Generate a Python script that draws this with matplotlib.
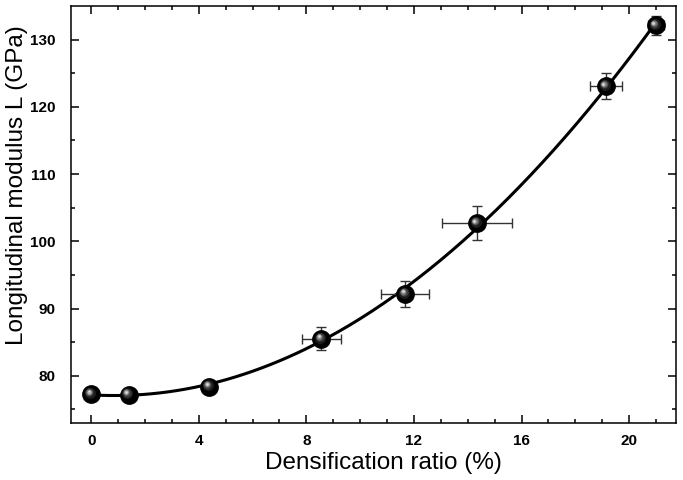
import numpy as np
import matplotlib
matplotlib.use('Agg')
import matplotlib.pyplot as plt
from matplotlib.transforms import offset_copy

# data
ratio = [0.0, 1.39, 4.39, 8.56, 11.68, 14.34, 19.13, 20.99]
modulus = [77.3, 77.2, 78.4, 85.5, 92.2, 102.7, 123.1, 132.1]
ratio_err = [0.1, 0.1, 0.2, 0.72, 0.89, 1.30, 0.60, 0.3]
modulus_err = [0.5, 0.5, 0.8, 1.7, 1.95, 2.5, 1.9, 1.4]

xticks = [0, 4, 8, 12, 16, 20]
yticks = [80, 90, 100, 110, 120, 130]

plt.rcParams['font.family'] = ['Liberation Sans', 'DejaVu Sans']

fig = plt.figure(figsize=(6.83, 4.8), dpi=100)
ax = fig.add_axes([0.104, 0.119, 0.886, 0.8685])

# fitted curve (quadratic through the points)
coef = np.polyfit(ratio, modulus, 2)
xf = np.linspace(0, 21, 200)
ax.plot(xf, np.polyval(coef, xf), color='black', lw=2.2, zorder=2)

# error bars
ax.errorbar(ratio, modulus, xerr=ratio_err, yerr=modulus_err, fmt='none',
            ecolor='#333333', elinewidth=1.0, capsize=3.5, capthick=1.0, zorder=3)

# shiny sphere markers
ax.plot(ratio, modulus, 'o', ms=12.5, mfc='black', mec='black', zorder=4)
shades = [('#1c1c1c', 8, -1.2, 1.2), ('#3c3c3c', 6, -1.8, 1.8),
          ('#707070', 4.5, -2.2, 2.2), ('#b0b0b0', 3, -2.4, 2.4),
          ('#e0e0e0', 1.5, -2.5, 2.5)]
for col, size, dx, dy in shades:
    tr = offset_copy(ax.transData, fig=fig, x=dx, y=dy, units='dots')
    ax.plot(ratio, modulus, 'o', ms=size, mfc=col, mec='none', transform=tr, zorder=5)

ax.set_xlim(-0.75, 21.75)
ax.set_ylim(73, 135)
ax.set_xticks(xticks)
ax.set_yticks(yticks)
ax.set_xticks(np.arange(1, 22, 1), minor=True)
ax.set_yticks(np.arange(75, 135, 5), minor=True)

ax.tick_params(which='both', direction='in', top=True, right=True, width=1.1)
ax.tick_params(which='major', length=6, pad=8, labelsize=11)
ax.tick_params(axis='y', which='major', pad=11)
ax.tick_params(which='minor', length=3)
for lab in ax.get_xticklabels() + ax.get_yticklabels():
    lab.set_fontweight('bold')
for s in ax.spines.values():
    s.set_linewidth(1.1)

ax.set_xlabel('Densification ratio (%)', fontsize=17.5)
ax.set_ylabel('Longitudinal modulus L (GPa)', fontsize=17.5)
ax.xaxis.set_label_coords(0.516, -0.07)
ax.yaxis.set_label_coords(-0.071, 0.571)

fig.savefig('out.png', dpi=100)
